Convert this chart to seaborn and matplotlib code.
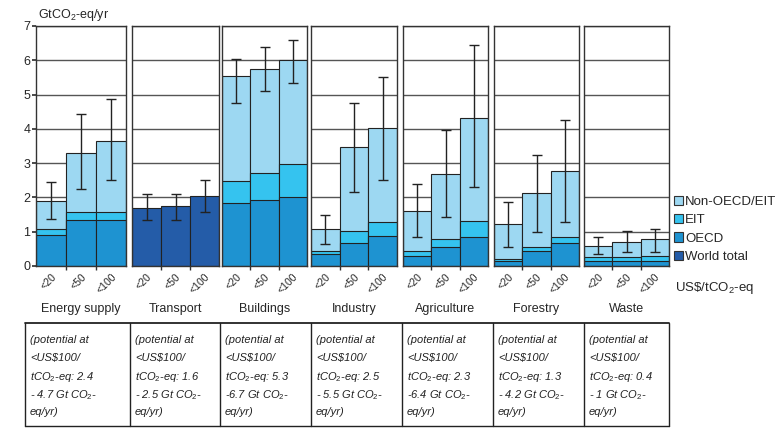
import numpy as np
import pandas as pd
import seaborn as sns
import matplotlib.pyplot as plt
from matplotlib.patches import Patch

# --- data (GtCO2-eq/yr) ---
sectors = ["Energy supply", "Transport", "Buildings", "Industry",
           "Agriculture", "Forestry", "Waste"]
prices = ["<20", "<50", "<100"]

oecd = [[0.90, 1.35, 1.35], [0, 0, 0], [1.85, 1.92, 2.00], [0.35, 0.68, 0.87],
        [0.30, 0.55, 0.85], [0.16, 0.44, 0.68], [0.16, 0.16, 0.16]]
eit = [[0.18, 0.23, 0.23], [0, 0, 0], [0.64, 0.80, 0.97], [0.09, 0.35, 0.42],
       [0.15, 0.25, 0.46], [0.03, 0.11, 0.16], [0.11, 0.11, 0.14]]
non_oecd = [[0.82, 1.73, 2.08], [0, 0, 0], [3.04, 3.04, 3.03], [0.63, 2.43, 2.74],
            [1.16, 1.87, 3.02], [1.03, 1.59, 1.92], [0.32, 0.44, 0.48]]
world_total = [[0, 0, 0], [1.70, 1.76, 2.04], [0, 0, 0], [0, 0, 0],
               [0, 0, 0], [0, 0, 0], [0, 0, 0]]

err_low = [[1.37, 2.26, 2.50], [1.33, 1.35, 1.58], [4.75, 5.10, 5.35],
           [0.63, 2.15, 2.50], [0.85, 1.42, 2.29], [0.56, 0.98, 1.28],
           [0.34, 0.41, 0.41]]
err_high = [[2.46, 4.42, 4.86], [2.10, 2.10, 2.50], [6.05, 6.40, 6.58],
            [1.48, 4.75, 5.50], [2.38, 3.97, 6.44], [1.87, 3.25, 4.26],
            [0.86, 1.02, 1.07]]

pot_low = [2.4, 1.6, 5.3, 2.5, 2.3, 1.3, 0.4]
pot_high = [4.7, 2.5, 6.7, 5.5, 6.4, 4.2, 1]
pot_dash = ["- ", "- ", "-", "- ", "-", "- ", "- "]

colors = {"Non-OECD/EIT": "#9dd8f2", "EIT": "#35c3ef",
          "OECD": "#1e93d1", "World total": "#245ca8"}

sns.set_theme(style="white")
plt.rcParams["font.family"] = ["Liberation Sans", "DejaVu Sans"]
plt.rcParams["mathtext.fontset"] = "custom"
plt.rcParams["mathtext.rm"] = "Liberation Sans"
plt.rcParams["mathtext.it"] = "Liberation Sans:italic"

W, H = 780, 429
fig = plt.figure(figsize=(W / 100, H / 100), dpi=100)
fig.patch.set_facecolor("white")


def fx(x):
    return x / W


def fy(y):
    return 1 - y / H


# overlay for the table and free text, in pixel coordinates
tab = fig.add_axes([0, 0, 1, 1], zorder=0)
tab.set_xlim(0, W)
tab.set_ylim(H, 0)
tab.axis("off")

panel_x = [(36, 126), (132, 219), (222, 307), (311, 397),
           (403, 488), (494, 579), (584, 669)]
y0_px, y7_px = 266, 26

for i, sector in enumerate(sectors):
    x0, x1 = panel_x[i]
    ax = fig.add_axes([fx(x0), fy(y0_px), (x1 - x0) / W, (y0_px - y7_px) / H],
                      zorder=2)
    ax.patch.set_alpha(0)

    o = np.array(oecd[i])
    e = np.array(eit[i])
    n = np.array(non_oecd[i])
    w = np.array(world_total[i])
    df = pd.DataFrame({"price": prices, "OECD": o, "EIT": o + e,
                       "Non-OECD/EIT": o + e + n, "World total": w})

    layers = ["World total"] if w.sum() > 0 else ["Non-OECD/EIT", "EIT", "OECD"]
    for layer in layers:
        sns.barplot(data=df, x="price", y=layer, color=colors[layer],
                    saturation=1, width=1, edgecolor="#222222", linewidth=0.8,
                    errorbar=None, ax=ax, zorder=2)

    top = np.array(err_high[i])
    low = np.array(err_low[i])
    mid = (top + low) / 2
    ax.errorbar(np.arange(3), mid, yerr=[mid - low, top - mid], fmt="none",
                ecolor="#222222", elinewidth=1, capsize=3.5, capthick=1, zorder=4)

    ax.set_xlim(-0.5, 2.5)
    ax.set_ylim(0, 7)
    ax.set_yticks(range(8))
    ax.grid(axis="y", color="#555555", linewidth=1)
    ax.set_axisbelow(True)
    for sp in ax.spines.values():
        sp.set_color("#333333")
        sp.set_linewidth(1)
    ax.set_xlabel("")
    ax.set_ylabel("")
    ax.set_xticks(range(3))
    ax.set_xticklabels(prices, rotation=45, ha="right", rotation_mode="anchor",
                       fontsize=7.5)
    ax.set_xticks([0.5, 1.5], minor=True)
    ax.tick_params(axis="x", which="major", length=0, pad=4)
    ax.tick_params(axis="x", which="minor", length=3, color="#333333",
                   bottom=True)
    if i == 0:
        ax.tick_params(axis="y", length=3, left=True, color="#333333",
                       labelsize=9, pad=1)
    else:
        ax.tick_params(axis="y", length=0, labelleft=False)

    tab.text((x0 + x1) / 2, 309, sector, ha="center", va="center", fontsize=9)

fig.text(fx(38), fy(15), "GtCO$_2$-eq/yr", ha="left", va="center", fontsize=9)
fig.text(fx(675), fy(288), "US\\$/tCO$_2$-eq", ha="left", va="center",
         fontsize=9.5)

handles = [Patch(facecolor=colors[k], edgecolor="#333333", linewidth=0.8)
           for k in colors]
fig.legend(handles, list(colors), loc="upper left",
           bbox_to_anchor=(fx(674), fy(196)), frameon=False, fontsize=9.5,
           handlelength=0.7, handleheight=0.7, handletextpad=0.15,
           labelspacing=0.45, borderpad=0, borderaxespad=0)

# --- table of potentials ---
cols = [25, 130, 220, 311, 402, 493, 584, 669]
t_top, t_bot = 323, 426
tab.plot([cols[0], cols[-1]], [t_top, t_top], color="#222222", lw=1.3)
tab.plot([cols[0], cols[-1]], [t_bot, t_bot], color="#222222", lw=1)
for c in cols:
    tab.plot([c, c], [t_top, t_bot], color="#222222", lw=1)
line_y = [340, 358, 377, 395, 412]
for i in range(len(sectors)):
    lines = ["(potential at", "<US\\$100/",
             f"tCO$_2$-eq: {pot_low[i]:g}",
             f"{pot_dash[i]}{pot_high[i]:g} Gt CO$_2$-",
             "eq/yr)"]
    for ly, txt in zip(line_y, lines):
        tab.text(cols[i] + 5, ly, txt, ha="left", va="center", fontsize=8,
                 style="italic", color="#222222")

fig.savefig("out.png", dpi=100, facecolor="white")
